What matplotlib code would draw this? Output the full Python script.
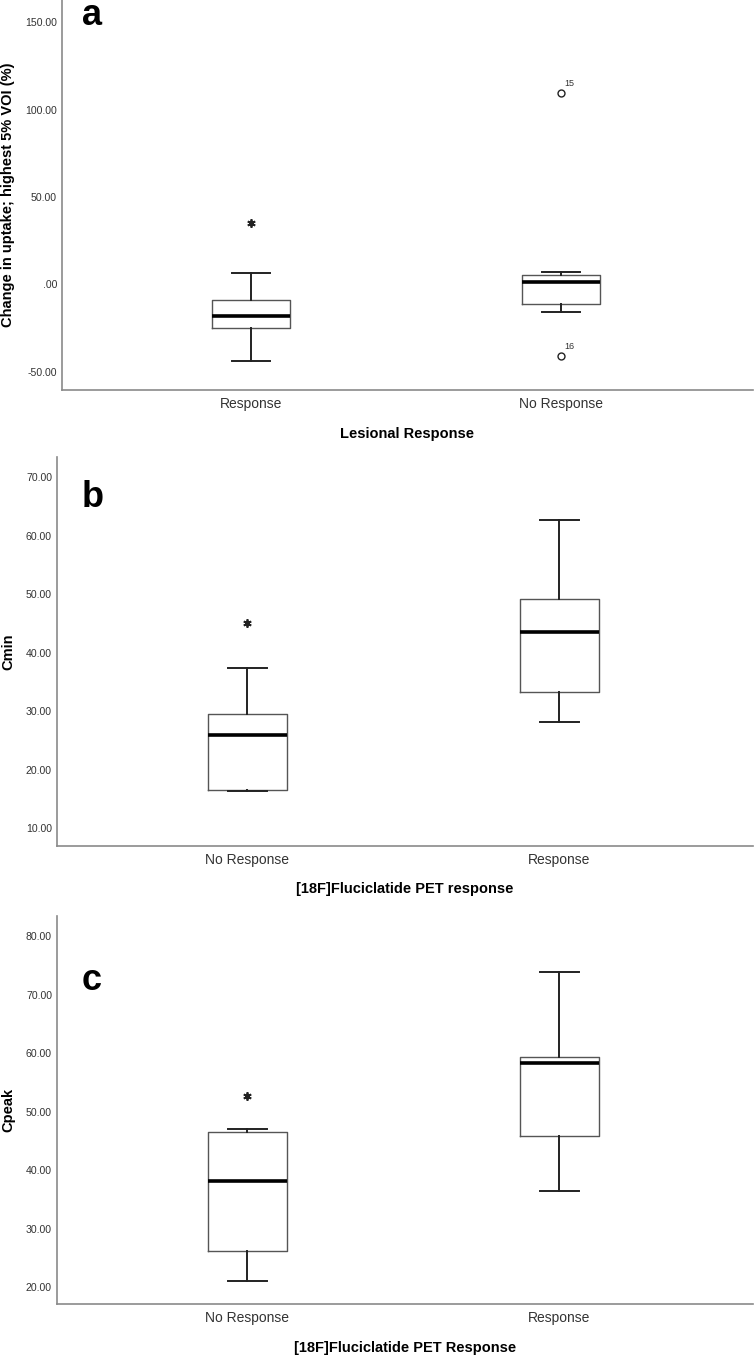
import matplotlib
matplotlib.use("Agg")
import matplotlib.pyplot as plt
from matplotlib.ticker import FuncFormatter

plt.rcParams['font.family'] = ['Liberation Sans', 'DejaVu Sans']

# Panel a: change in uptake by lesional response
a_categories = ["Response", "No Response"]
a_q1 = [-25.1, -11.0]
a_med = [-18.1, 1.3]
a_q3 = [-8.6, 5.3]
a_whislo = [-43.8, -15.6]
a_whishi = [6.3, 7.0]
a_extreme_pos = [0]
a_extreme_val = [35.0]
a_outlier_pos = [1, 1]
a_outlier_val = [109.3, -41.1]
a_outlier_ids = ["15", "16"]
a_yticks = [-50, 0, 50, 100, 150]

# Panel b: Cmin by PET response
b_categories = ["No Response", "Response"]
b_q1 = [16.6, 33.4]
b_med = [26.0, 43.5]
b_q3 = [29.5, 49.2]
b_whislo = [16.35, 28.2]
b_whishi = [37.5, 62.7]
b_extreme_pos = [0]
b_extreme_val = [45.1]
b_yticks = [10, 20, 30, 40, 50, 60, 70]

# Panel c: Cpeak by PET response
c_categories = ["No Response", "Response"]
c_q1 = [26.2, 45.8]
c_med = [38.2, 58.4]
c_q3 = [46.6, 59.4]
c_whislo = [21.1, 36.5]
c_whishi = [47.0, 74.0]
c_extreme_pos = [0]
c_extreme_val = [52.7]
c_yticks = [20, 30, 40, 50, 60, 70, 80]

W, H = 755, 1358
fig = plt.figure(figsize=(W / 100, H / 100), dpi=100)


def add_axes_px(left, top, right, bottom):
    return fig.add_axes([left / W, 1 - bottom / H, (right - left) / W, (bottom - top) / H])


def fmt(v, pos):
    s = f"{v:.2f}"
    if s.startswith("0."):
        s = s[1:]
    elif s.startswith("-0."):
        s = "-" + s[2:]
    return s


def draw_panel(ax, cats, q1, med, q3, lo, hi, ylim, yticks, ylabel, xlabel,
               letter, letter_pos, ylab_x, xlab_y):
    stats = []
    for i in range(len(cats)):
        stats.append(dict(q1=q1[i], med=med[i], q3=q3[i], whislo=lo[i],
                          whishi=hi[i], fliers=[], label=cats[i]))
    ax.bxp(stats, positions=range(len(cats)), widths=0.254, showfliers=False,
           boxprops=dict(color='#555555', linewidth=1.0),
           medianprops=dict(color='black', linewidth=2.6),
           whiskerprops=dict(color='#222222', linewidth=1.4),
           capprops=dict(color='#222222', linewidth=1.4),
           capwidths=0.125)
    ax.set_xlim(-0.61, 1.62)
    ax.set_ylim(*ylim)
    ax.set_yticks(yticks)
    ax.yaxis.set_major_formatter(FuncFormatter(fmt))
    ax.set_xticks(range(len(cats)))
    ax.set_xticklabels(cats, fontsize=10, color='#333333')
    ax.tick_params(axis='y', length=0, pad=3.6, labelsize=7.6, labelcolor='#333333')
    ax.tick_params(axis='x', length=0, pad=5)
    for s in ['top', 'right']:
        ax.spines[s].set_visible(False)
    for s in ['left', 'bottom']:
        ax.spines[s].set_color('#8a8a8a')
        ax.spines[s].set_linewidth(1.2)
    ax.set_ylabel(ylabel, fontsize=10.5, fontweight='bold')
    ax.yaxis.set_label_coords(ylab_x, 0.5)
    ax.yaxis.label.set_va('center')
    ax.set_xlabel(xlabel, fontsize=10.5, fontweight='bold')
    ax.xaxis.set_label_coords(0.5, xlab_y)
    ax.xaxis.label.set_va('center')
    ax.text(letter_pos[0], letter_pos[1], letter, transform=ax.transAxes,
            fontsize=26, fontweight='bold', va='baseline', ha='left')


def draw_extremes(ax, pos, vals):
    ax.plot(pos, vals, linestyle='none', marker=(6, 2, 0), markersize=6,
            markeredgewidth=1.3, color='#222222')


# a
ax_a = add_axes_px(62, 0, 753, 390)
draw_panel(ax_a, a_categories, a_q1, a_med, a_q3, a_whislo, a_whishi,
           (-60.3, 162.6), a_yticks, "Change in uptake; highest 5% VOI (%)",
           "Lesional Response", "a", (0.029, 0.936), -0.078, -0.113)
draw_extremes(ax_a, a_extreme_pos, a_extreme_val)
ax_a.plot(a_outlier_pos, a_outlier_val, linestyle='none', marker='o', markersize=5,
          markerfacecolor='white', markeredgecolor='#222222', markeredgewidth=1.0)
for p, v, t in zip(a_outlier_pos, a_outlier_val, a_outlier_ids):
    ax_a.annotate(t, (p, v), xytext=(2.5, 4), textcoords='offset points',
                  fontsize=6.5, color='#333333', va='bottom', ha='left')

# b
ax_b = add_axes_px(57, 457, 753, 846)
draw_panel(ax_b, b_categories, b_q1, b_med, b_q3, b_whislo, b_whishi,
           (7.0, 73.5), b_yticks, "Cmin", "[18F]Fluciclatide PET response",
           "b", (0.036, 0.871), -0.070, -0.111)
draw_extremes(ax_b, b_extreme_pos, b_extreme_val)

# c
ax_c = add_axes_px(57, 916, 753, 1304)
draw_panel(ax_c, c_categories, c_q1, c_med, c_q3, c_whislo, c_whishi,
           (17.1, 83.5), c_yticks, "Cpeak", "[18F]Fluciclatide PET Response",
           "c", (0.036, 0.809), -0.070, -0.113)
draw_extremes(ax_c, c_extreme_pos, c_extreme_val)

fig.savefig("out.png", dpi=100, facecolor='white')
